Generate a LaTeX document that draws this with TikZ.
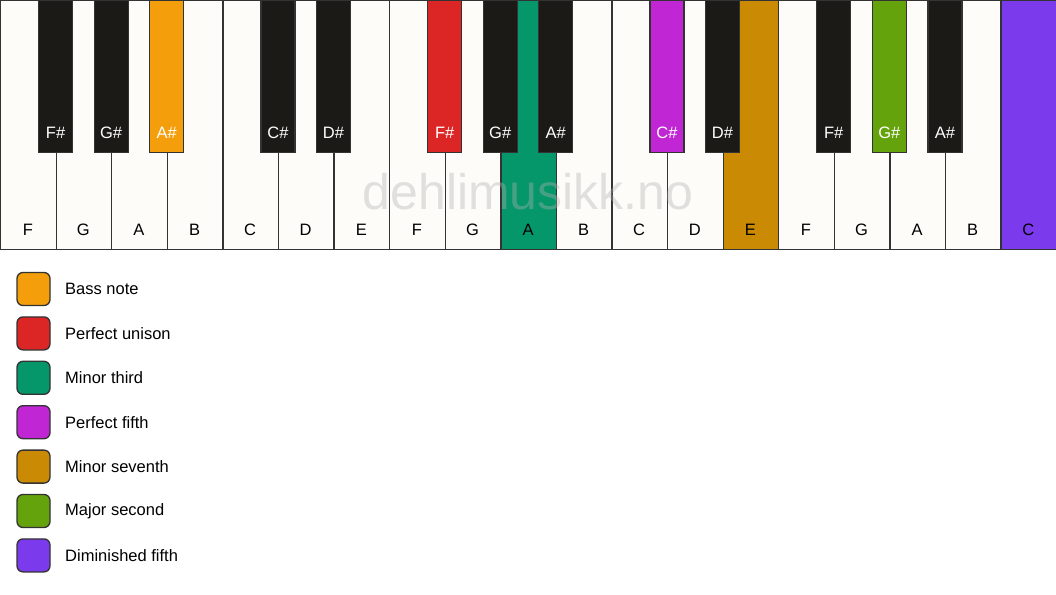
\documentclass[tikz,border=0pt]{standalone}
\usepackage{fontspec}
\setmainfont{Liberation Sans}
\definecolor{wk}{HTML}{FDFCF8}
\definecolor{bk}{HTML}{1C1A17}
\definecolor{edge}{HTML}{333333}
\definecolor{cbass}{HTML}{F59E0B}
\definecolor{cunison}{HTML}{DC2626}
\definecolor{cthird}{HTML}{059669}
\definecolor{cfifth}{HTML}{C026D3}
\definecolor{cseventh}{HTML}{CA8A04}
\definecolor{csecond}{HTML}{65A30D}
\definecolor{cdim}{HTML}{7C3AED}
\tikzset{
  whitekey/.style={draw=edge, line width=1.3pt, rectangle, inner sep=0pt, minimum width=55.5789pt, minimum height=249pt, anchor=north west},
  blackkey/.style={draw=edge, line width=1.3pt, rectangle, inner sep=0pt, minimum width=34pt, minimum height=152pt, anchor=north},
  wlabel/.style={font=\fontsize{16.5}{18}\selectfont, text=black},
  blabel/.style={font=\fontsize{16.5}{18}\selectfont, text=white},
  legbox/.style={draw=edge, line width=1.3pt, rounded corners=6pt, minimum width=33pt, minimum height=33pt, inner sep=0pt},
  legtext/.style={font=\fontsize{16.5}{18}\selectfont, anchor=west, inner sep=0pt},
}
\begin{document}
\begin{tikzpicture}[x=1pt,y=-1pt]
\useasboundingbox[fill=white] (0,0) rectangle (1056,594);
\foreach \n/\c [count=\i from 0] in {F/wk,G/wk,A/wk,B/wk,C/wk,D/wk,E/wk,F/wk,G/wk,A/cthird,B/wk,C/wk,D/wk,E/cseventh,F/wk,G/wk,A/wk,B/wk,C/cdim}{
  \node[whitekey, fill=\c] (w\i) at (\i*55.5789,0) {};
  \node[wlabel] (wl\i) at (\i*55.5789+27.789,230) {\n};
}
\node[font=\fontsize{50}{56}\selectfont, text=black!30, opacity=0.38] (wm) at (528,192) {dehlimusikk.no};
\foreach \n/\b/\c [count=\j] in {F\#/1/bk,G\#/2/bk,A\#/3/cbass,C\#/5/bk,D\#/6/bk,F\#/8/cunison,G\#/9/bk,A\#/10/bk,C\#/12/cfifth,D\#/13/bk,F\#/15/bk,G\#/16/csecond,A\#/17/bk}{
  \node[blackkey, fill=\c] (b\j) at (\b*55.5789,0) {};
  \node[blabel] (bl\j) at (\b*55.5789,133) {\n};
}
\foreach \t/\c [count=\k from 0] in {Bass note/cbass,Perfect unison/cunison,Minor third/cthird,Perfect fifth/cfifth,Minor seventh/cseventh,Major second/csecond,Diminished fifth/cdim}{
  \node[legbox, fill=\c] (lb\k) at (33.5,289+\k*44.4) {};
  \node[legtext] (lt\k) at (65,289+\k*44.4) {\t};
}
\end{tikzpicture}
\end{document}
